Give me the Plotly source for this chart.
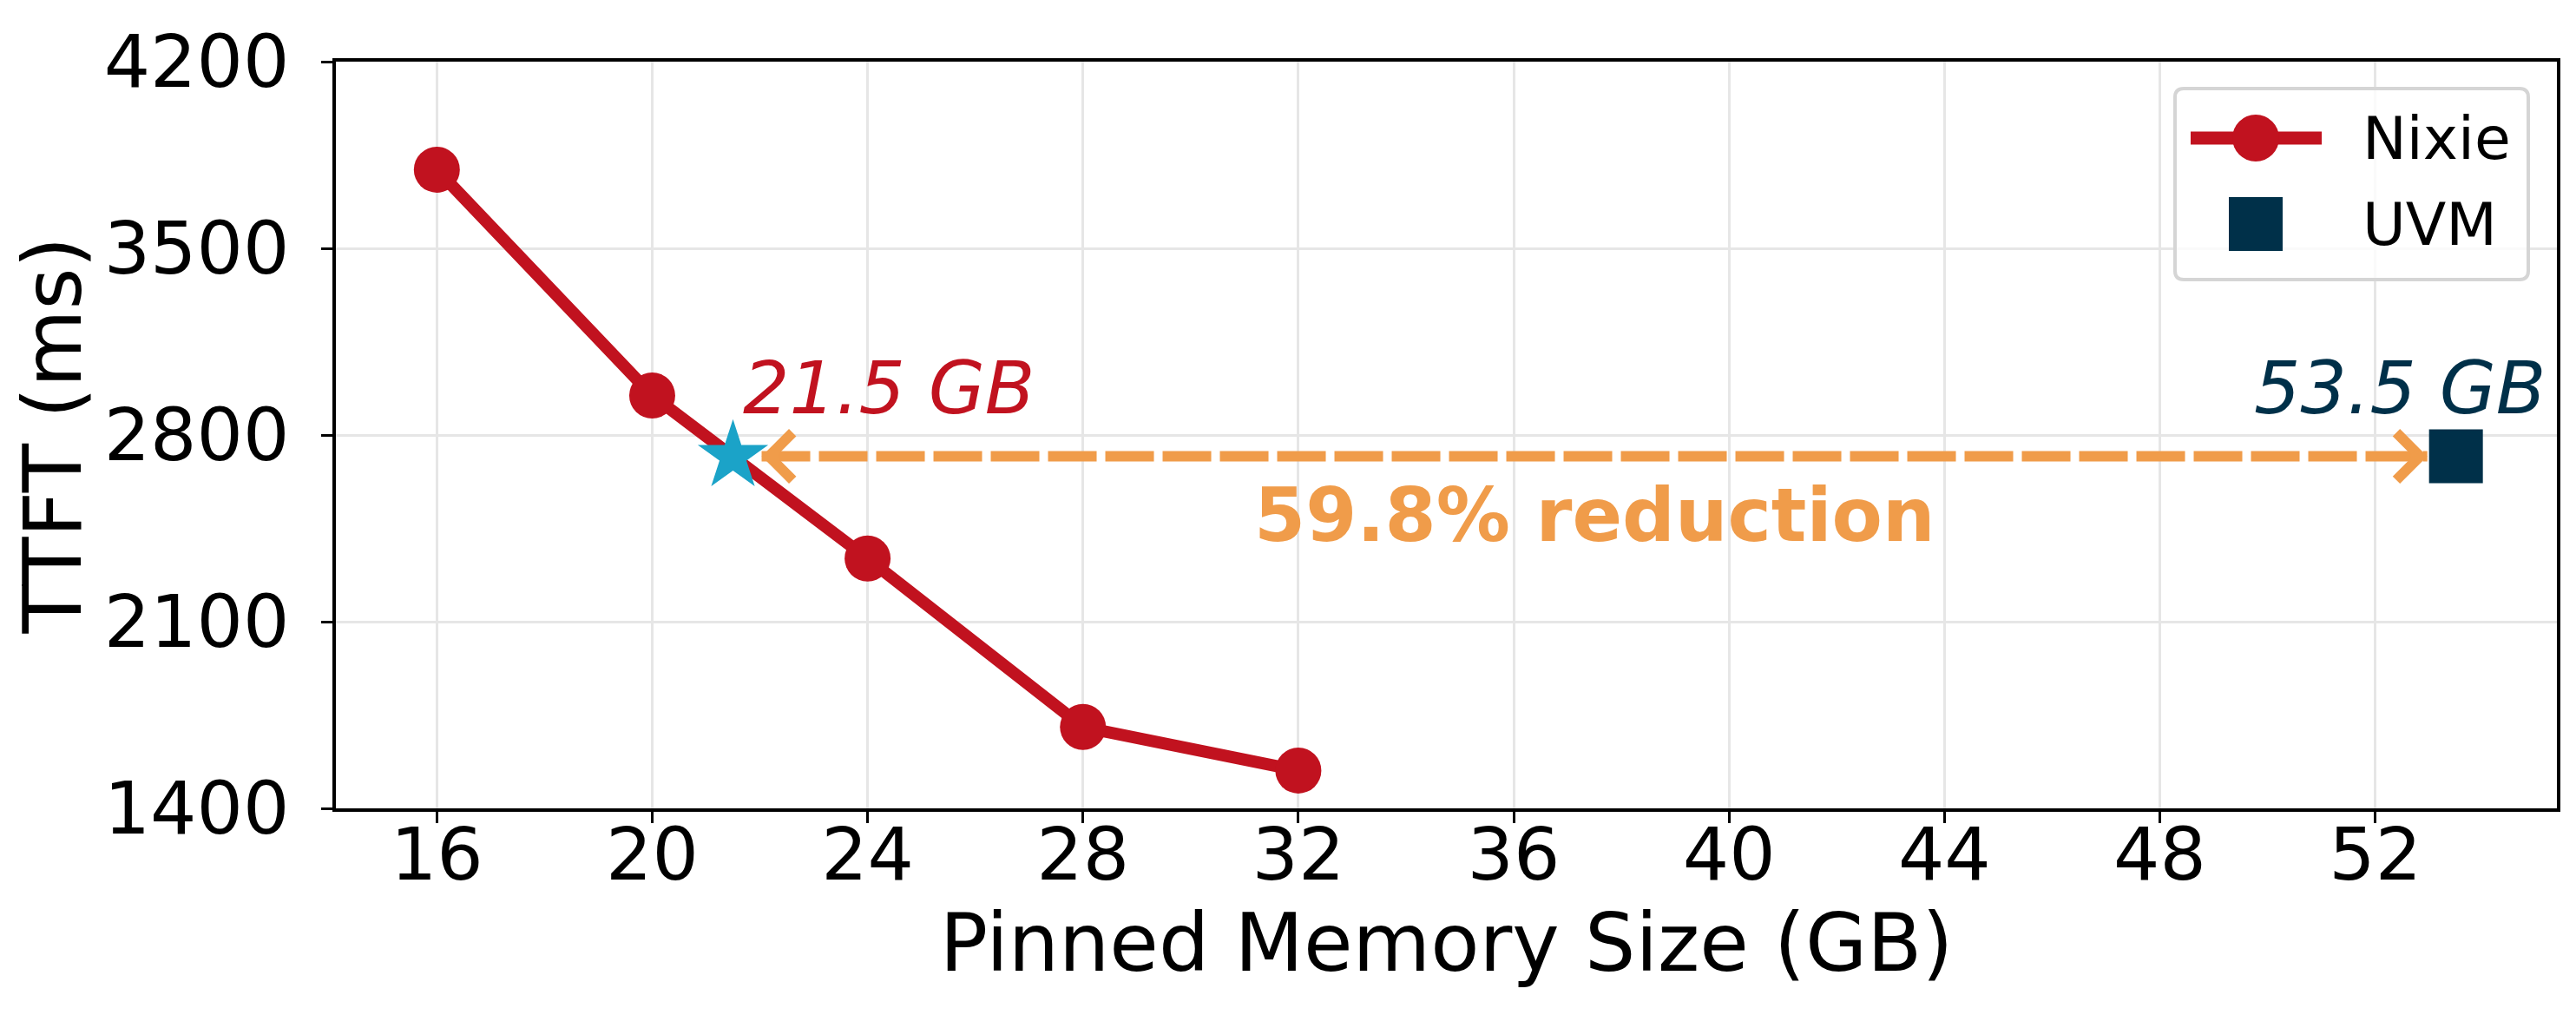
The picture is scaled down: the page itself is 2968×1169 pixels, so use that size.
import plotly.graph_objects as go

# Nixie: time to first token vs pinned memory size
pinned_gb = [16, 20, 24, 28, 32]
ttft_ms = [3795, 2948, 2337, 1705, 1542]

# UVM baseline and the point on the Nixie curve with the same TTFT
uvm_gb = [53.5]
uvm_ttft = [2720]
match_gb = [21.5]
match_ttft = [2720]

x_ticks = [16, 20, 24, 28, 32, 36, 40, 44, 48, 52]
y_ticks = [1400, 2100, 2800, 3500, 4200]
x_range = [14.125, 55.375]
y_range = [1400, 4200]

RED = "#C1121F"
NAVY = "#003049"
ORANGE = "#F09C4A"
STAR = "#1BA3C8"
FONT = "DejaVu Sans"

W, H = 2968, 1169
M = dict(l=379, r=30, t=63, b=246)
plot_w = W - M["l"] - M["r"]
plot_h = H - M["t"] - M["b"]


def px(x):
    return (x - M["l"]) / plot_w


def py(y):
    return (H - M["b"] - y) / plot_h


fig = go.Figure()

fig.add_trace(go.Scatter(
    x=pinned_gb, y=ttft_ms, mode="lines+markers", name="Nixie",
    line=dict(color=RED, width=14),
    marker=dict(color=RED, size=53, symbol="circle"),
    showlegend=False))
fig.add_trace(go.Scatter(
    x=uvm_gb, y=uvm_ttft, mode="markers", name="UVM",
    marker=dict(color=NAVY, size=62, symbol="square"),
    showlegend=False))
fig.add_trace(go.Scatter(
    x=match_gb, y=match_ttft, mode="markers",
    marker=dict(color=STAR, size=61, symbol="star"),
    showlegend=False))

# dashed double arrow between the two points
shrink_px = 33
px_per_gb = plot_w / (x_range[1] - x_range[0])
shrink = shrink_px / px_per_gb
shapes = [dict(
    type="line", xref="x", yref="y",
    x0=match_gb[0] + shrink, x1=uvm_gb[0] - shrink,
    y0=match_ttft[0], y1=uvm_ttft[0],
    line=dict(color=ORANGE, width=12, dash="56px,10px"))]

annotations = []
for x_tip, y_tip, off in [(uvm_gb[0], uvm_ttft[0], -55), (match_gb[0], match_ttft[0], 55)]:
    annotations.append(dict(
        x=x_tip, y=y_tip, xref="x", yref="y", ax=off, ay=0, text="",
        showarrow=True, arrowhead=4, arrowwidth=10, arrowsize=1.05,
        arrowcolor=ORANGE, standoff=shrink_px))

reduction = (1 - match_gb[0] / uvm_gb[0]) * 100
annotations += [
    dict(x=match_gb[0] + 0.15, y=2976, xref="x", yref="y", text=f"{match_gb[0]} GB",
         showarrow=False, xanchor="left", yanchor="middle",
         font=dict(family=FONT, size=84, color=RED, style="italic")),
    dict(x=52.45, y=2976, xref="x", yref="y", text=f"{uvm_gb[0]} GB",
         showarrow=False, xanchor="center", yanchor="middle",
         font=dict(family=FONT, size=84, color=NAVY, style="italic")),
    dict(x=(match_gb[0] + uvm_gb[0]) / 2, y=2500, xref="x", yref="y",
         text=f"{reduction:.1f}% reduction",
         showarrow=False, xanchor="center", yanchor="middle",
         font=dict(family=FONT, size=85, color=ORANGE, weight="bold")),
]

# legend drawn by hand so the keys keep the plot's sizes
bx0, bx1, by0, by1 = px(2498), px(2905), py(94), py(314)
rx, ry = 10 / plot_w, 10 / plot_h
box = (f"M{bx0 + rx},{by0} L{bx1 - rx},{by0} Q{bx1},{by0} {bx1},{by0 - ry} "
       f"L{bx1},{by1 + ry} Q{bx1},{by1} {bx1 - rx},{by1} L{bx0 + rx},{by1} "
       f"Q{bx0},{by1} {bx0},{by1 + ry} L{bx0},{by0 - ry} Q{bx0},{by0} {bx0 + rx},{by0} Z")
shapes += [
    dict(type="path", xref="paper", yref="paper", path=box,
         fillcolor="rgba(255,255,255,0.8)", line=dict(color="#D5D5D5", width=4)),
    dict(type="line", xref="paper", yref="paper", x0=px(2516), x1=px(2667),
         y0=py(151), y1=py(151), line=dict(color=RED, width=15)),
    dict(type="circle", xref="paper", yref="paper", xsizemode="pixel", ysizemode="pixel",
         xanchor=px(2591), yanchor=py(151), x0=-27, x1=27, y0=-27, y1=27,
         fillcolor=RED, line=dict(width=0)),
    dict(type="rect", xref="paper", yref="paper", xsizemode="pixel", ysizemode="pixel",
         xanchor=px(2591), yanchor=py(250), x0=-31, x1=31, y0=-31, y1=31,
         fillcolor=NAVY, line=dict(width=0)),
]
for name, yy in [("Nixie", 151), ("UVM", 250)]:
    annotations.append(dict(
        x=px(2712), y=py(yy), xref="paper", yref="paper", text=name,
        showarrow=False, xanchor="left", yanchor="middle",
        font=dict(family=FONT, size=68, color="black")))

axis_common = dict(
    showline=True, linecolor="black", linewidth=3.5, mirror=True,
    ticks="outside", ticklen=13, tickwidth=3, tickcolor="black",
    showgrid=True, gridcolor="#E6E6E6", gridwidth=2.5, zeroline=False,
    tickfont=dict(family=FONT, size=84, color="black"),
)

fig.update_layout(
    width=W, height=H, margin=M,
    paper_bgcolor="white", plot_bgcolor="white",
    font=dict(family=FONT, color="black"),
    xaxis=dict(axis_common, range=x_range, tickvals=x_ticks, automargin=False,
               ticklabelstandoff=-36,
               title=dict(text="Pinned Memory Size (GB)", standoff=20,
                          font=dict(family=FONT, size=92, color="black"))),
    yaxis=dict(axis_common, range=y_range, tickvals=y_ticks, automargin=False,
               ticklabelstandoff=20,
               title=dict(text="TTFT (ms)", standoff=22,
                          font=dict(family=FONT, size=92, color="black"))),
    shapes=shapes,
    annotations=annotations,
    showlegend=False,
)

fig.write_html("out.html")
